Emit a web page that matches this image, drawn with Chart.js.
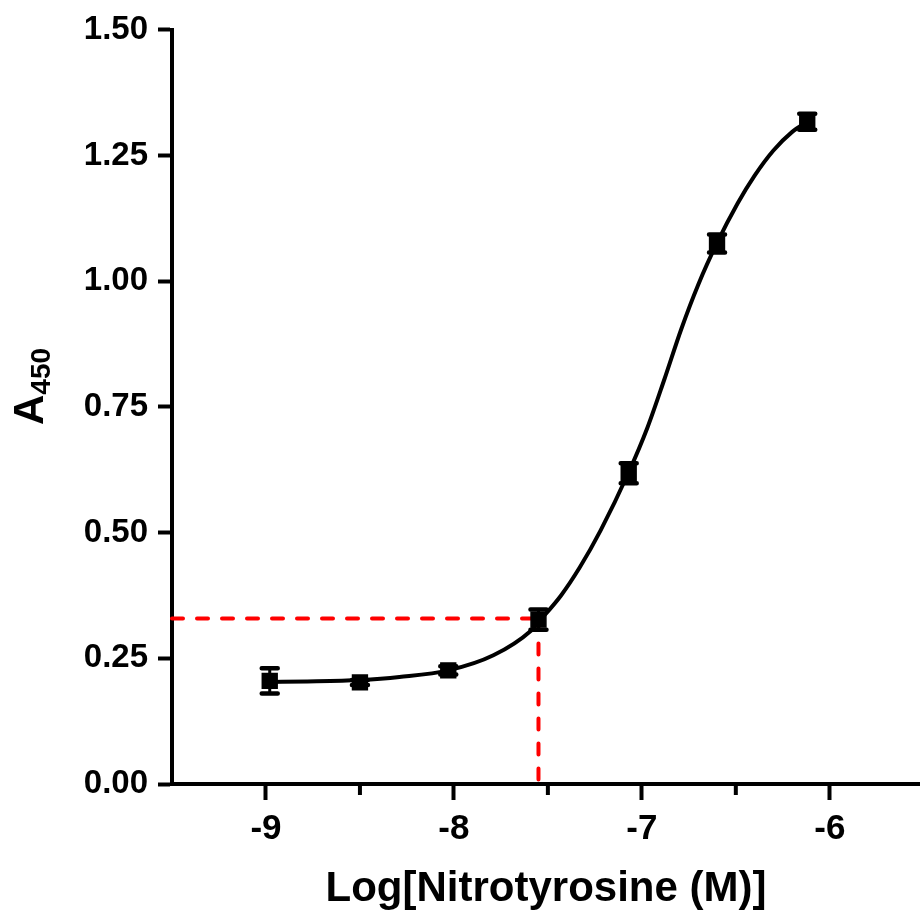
<!DOCTYPE html>
<html>
<head>
<meta charset="utf-8">
<script src="https://cdn.jsdelivr.net/npm/chart.js@4.4.0/dist/chart.umd.min.js"></script>
<style>
  html, body { margin: 0; padding: 0; background: #fff; }
  #wrap { width: 920px; height: 916px; }
</style>
</head>
<body>
<div id="wrap"><canvas id="curveChart" width="920" height="916"></canvas></div>
<script>
// --- standard points (mean +/- error) ---
const LOG_CONC = [-8.98, -8.50, -8.03, -7.55, -7.07, -6.60, -6.12];
const ABSORBANCE = [0.205, 0.202, 0.226, 0.327, 0.618, 1.075, 1.317];
const ABS_ERR = [0.025, 0.005, 0.008, 0.020, 0.020, 0.018, 0.016];

// --- fitted curve, traced along its length ---
const FIT_X = [-8.98, -8.78, -8.50, -8.29, -8.03, -7.79, -7.59, -7.55, -7.43, -7.33, -7.22, -7.07,
               -6.97, -6.88, -6.79, -6.70, -6.60, -6.49, -6.40, -6.30, -6.20, -6.12];
const FIT_Y = [0.203, 0.204, 0.207, 0.213, 0.226, 0.256, 0.305, 0.322, 0.375, 0.431, 0.504, 0.620,
               0.709, 0.805, 0.905, 0.993, 1.076, 1.155, 1.210, 1.260, 1.297, 1.317];

// --- sample read-off (red guide) ---
const GUIDE_X = -7.55;
const GUIDE_Y = 0.329;

// --- axes ---
const X_MIN = -9.5, X_MAX = -5.52;
const X_TICKS = [-9, -8, -7, -6];
const X_MINOR = [-8.5, -7.5, -6.5];
const Y_MIN = 0, Y_MAX = 1.5, Y_STEP = 0.25;

const FONT = '"Liberation Sans", Arial, Helvetica, sans-serif';

const errorBars = {
  id: 'errorBars',
  afterDatasetsDraw(chart) {
    const { ctx, scales: { x, y } } = chart;
    ctx.save();
    ctx.strokeStyle = '#000';
    ctx.lineCap = 'round';
    LOG_CONC.forEach((c, i) => {
      const px = x.getPixelForValue(c);
      const top = y.getPixelForValue(ABSORBANCE[i] + ABS_ERR[i]);
      const bot = y.getPixelForValue(ABSORBANCE[i] - ABS_ERR[i]);
      ctx.lineWidth = 3;
      ctx.beginPath();
      ctx.moveTo(px, top); ctx.lineTo(px, bot);
      ctx.stroke();
      ctx.lineWidth = 4.5;
      ctx.beginPath();
      ctx.moveTo(px - 8, top); ctx.lineTo(px + 8, top);
      ctx.moveTo(px - 8, bot); ctx.lineTo(px + 8, bot);
      ctx.stroke();
    });
    ctx.restore();
  }
};

const minorTicks = {
  id: 'minorTicks',
  afterDraw(chart) {
    const { ctx, scales: { x } } = chart;
    ctx.save();
    ctx.strokeStyle = '#000';
    ctx.lineWidth = 4;
    X_MINOR.forEach(v => {
      const px = x.getPixelForValue(v);
      ctx.beginPath();
      ctx.moveTo(px, x.top);
      ctx.lineTo(px, x.top + 11);
      ctx.stroke();
    });
    ctx.restore();
  }
};

// y title needs a subscript, so it is drawn by hand
const yTitle = {
  id: 'yTitle',
  afterDraw(chart) {
    const ctx = chart.ctx;
    ctx.save();
    ctx.translate(43, 425);
    ctx.rotate(-Math.PI / 2);
    ctx.fillStyle = '#000';
    ctx.textAlign = 'left';
    ctx.textBaseline = 'alphabetic';
    ctx.font = 'bold 42px ' + FONT;
    ctx.fillText('A', 0, 0);
    const w = ctx.measureText('A').width;
    ctx.font = 'bold 28px ' + FONT;
    ctx.fillText('450', w, 7);
    ctx.restore();
  }
};

const ctx = document.getElementById('curveChart').getContext('2d');
new Chart(ctx, {
  type: 'scatter',
  data: {
    datasets: [
      {
        label: 'points',
        data: LOG_CONC.map((c, i) => ({ x: c, y: ABSORBANCE[i] })),
        pointStyle: 'rect',
        pointRadius: 10.5,
        pointBackgroundColor: '#000',
        pointBorderColor: '#000',
        pointBorderWidth: 1.5,
        showLine: false,
        order: 1
      },
      {
        label: 'fit',
        data: FIT_X.map((c, i) => ({ x: c, y: FIT_Y[i] })),
        showLine: true,
        borderColor: '#000',
        borderWidth: 4,
        pointRadius: 0,
        cubicInterpolationMode: 'monotone',
        order: 2
      },
      {
        label: 'guide-h',
        data: [{ x: X_MIN, y: GUIDE_Y }, { x: GUIDE_X, y: GUIDE_Y }],
        showLine: true,
        borderColor: '#ff0000',
        borderWidth: 4,
        borderDash: [11, 14],
        borderCapStyle: 'round',
        pointRadius: 0,
        order: 3
      },
      {
        label: 'guide-v',
        data: [{ x: GUIDE_X, y: GUIDE_Y }, { x: GUIDE_X, y: Y_MIN }],
        showLine: true,
        borderColor: '#ff0000',
        borderWidth: 4,
        borderDash: [11, 14],
        borderCapStyle: 'round',
        pointRadius: 0,
        order: 3
      }
    ]
  },
  options: {
    responsive: false,
    animation: false,
    clip: false,
    layout: { autoPadding: false, padding: { top: 28, right: 0, bottom: 0, left: 0 } },
    plugins: {
      legend: { display: false },
      tooltip: { enabled: false }
    },
    scales: {
      x: {
        type: 'linear',
        min: X_MIN,
        max: X_MAX,
        afterBuildTicks: scale => { scale.ticks = X_TICKS.map(v => ({ value: v })); },
        afterFit: scale => {
          scale.height = 132;
          scale.paddingLeft = 0;
          scale.paddingRight = 0;
        },
        border: { display: true, color: '#000', width: 4 },
        grid: { drawOnChartArea: false, drawTicks: true, tickLength: 16, tickWidth: 4, tickColor: '#000' },
        ticks: {
          color: '#000',
          padding: 8,
          maxRotation: 0,
          font: { family: FONT, size: 35, weight: 'bold' },
          callback: v => String(v)
        },
        title: {
          display: true,
          text: 'Log[Nitrotyrosine (M)]',
          color: '#000',
          font: { family: FONT, size: 42, weight: 'bold' },
          padding: { top: 0, bottom: 1 }
        }
      },
      y: {
        type: 'linear',
        min: Y_MIN,
        max: Y_MAX,
        afterFit: scale => { scale.width = 172; },
        border: { display: true, color: '#000', width: 4 },
        grid: { drawOnChartArea: false, drawTicks: true, tickLength: 14, tickWidth: 4, tickColor: '#000' },
        ticks: {
          stepSize: Y_STEP,
          color: '#000',
          padding: 10,
          font: { family: FONT, size: 33, weight: 'bold' },
          callback: v => v.toFixed(2)
        }
      }
    }
  },
  plugins: [errorBars, minorTicks, yTitle]
});
</script>
</body>
</html>
